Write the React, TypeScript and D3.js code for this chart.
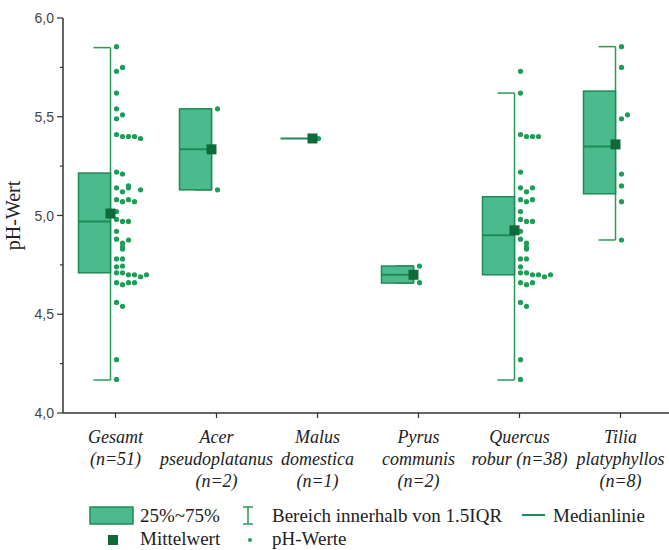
import React from 'react';
import * as d3 from 'd3';

// categories and their label lines
const categories = ['Gesamt', 'Acer', 'Malus', 'Pyrus', 'Quercus', 'Tilia'];
const labelLines = [
  ['Gesamt', '(n=51)'],
  ['Acer', 'pseudoplatanus', '(n=2)'],
  ['Malus', 'domestica', '(n=1)'],
  ['Pyrus', 'communis', '(n=2)'],
  ['Quercus', 'robur (n=38)'],
  ['Tilia', 'platyphyllos', '(n=8)'],
];

// pH values
const acer = [5.54, 5.13];
const malus = [5.39];
const pyrus = [4.744, 4.66];
const quercus = [
  5.73, 5.62, 5.41, 5.4, 5.4, 5.4, 5.22, 5.14, 5.12, 5.14, 5.08, 5.07, 5.08,
  5.02, 4.98, 4.97, 4.97, 4.92, 4.88, 4.86, 4.84, 4.83, 4.78, 4.78, 4.74, 4.71,
  4.71, 4.7, 4.7, 4.69, 4.7, 4.66, 4.65, 4.66, 4.56, 4.54, 4.27, 4.17,
];
const tilia = [5.855, 5.75, 5.49, 5.51, 5.21, 5.15, 5.07, 4.876];
const gesamt = [...quercus, ...tilia, ...acer, ...malus, ...pyrus];
const seriesValues = [gesamt, acer, malus, pyrus, quercus, tilia];

// box statistics
const q1 = [4.71, 5.13, 5.39, 4.658, 4.7, 5.11];
const medians = [4.97, 5.335, 5.39, 4.7, 4.9, 5.35];
const q3 = [5.215, 5.54, 5.39, 4.744, 5.095, 5.63];
const means = [5.01, 5.335, 5.39, 4.7, 4.925, 5.36];
const whiskerLo = [4.167, 5.13, 5.39, 4.658, 4.167, 4.876];
const whiskerHi = [5.85, 5.54, 5.39, 4.744, 5.62, 5.855];

const yTicks = [4.0, 4.5, 5.0, 5.5, 6.0];
const yMinor = [4.25, 4.75, 5.25, 5.75];

const W = 669;
const H = 550;
const BOX_FILL = '#4bbb8e';
const BOX_STROKE = '#1f8a55';
const GREEN = '#2a9a55';
const POINT = '#1e9d58';
const MEAN = '#0f6a3a';
const SERIF = '"Liberation Serif", "Times New Roman", serif';
const SANS = '"Liberation Sans", Arial, sans-serif';

const fmt = (v: number) => v.toFixed(1).replace('.', ',');

// spread points of similar value sideways (simple swarm)
function swarm(vals: number[]) {
  const placed: number[] = [];
  return vals.map((v) => {
    const k = placed.filter((p) => Math.abs(p - v) < 0.03).length;
    placed.push(v);
    return k % 6;
  });
}

export default function App() {
  const x = d3.scaleBand().domain(categories).range([65, 671]);
  const y = d3.scaleLinear().domain([4, 6]).range([413, 18]);
  const cx = (c: string) => (x(c) as number) + x.bandwidth() / 2;

  return (
    <svg width={W} height={H} style={{ position: 'absolute', left: 0, top: 0, background: '#fff' }}>
      {/* y axis */}
      <line x1={63} x2={63} y1={y(6)} y2={y(4)} stroke="#333" strokeWidth={1.5} />
      {yTicks.map((t) => (
        <g key={t}>
          <line x1={57} x2={63} y1={y(t)} y2={y(t)} stroke="#333" strokeWidth={1.2} />
          <text x={54} y={y(t) + 5} textAnchor="end" fontFamily={SANS} fontSize={14} fill="#444">
            {fmt(t)}
          </text>
        </g>
      ))}
      {yMinor.map((t) => (
        <line key={t} x1={60} x2={63} y1={y(t)} y2={y(t)} stroke="#333" strokeWidth={1.2} />
      ))}
      <text
        transform={`translate(20,${(y(4) + y(6)) / 2}) rotate(-90)`}
        textAnchor="middle"
        fontFamily={SERIF}
        fontSize={20}
        fill="#222"
      >
        pH-Wert
      </text>

      {/* x axis */}
      <line x1={63} x2={W} y1={y(4)} y2={y(4)} stroke="#333" strokeWidth={1.5} />
      {categories.map((c, i) => (
        <g key={c}>
          <line x1={cx(c)} x2={cx(c)} y1={y(4)} y2={y(4) + 5} stroke="#333" strokeWidth={1.2} />
          {labelLines[i].map((l, j) => (
            <text
              key={j}
              x={cx(c)}
              y={443 + j * 22}
              textAnchor="middle"
              fontFamily={SERIF}
              fontStyle="italic"
              fontSize={18}
              fill="#222"
            >
              {l}
            </text>
          ))}
        </g>
      ))}

      {/* boxes */}
      {categories.map((c, i) => {
        const right = cx(c) - 5;
        const left = cx(c) - 37;
        const offs = swarm(seriesValues[i]);
        return (
          <g key={c}>
            {whiskerHi[i] !== whiskerLo[i] && (
              <g stroke={GREEN} strokeWidth={1.5} fill="none">
                <line x1={right} x2={right} y1={y(whiskerHi[i])} y2={y(whiskerLo[i])} />
                <line x1={right - 17} x2={right} y1={y(whiskerHi[i])} y2={y(whiskerHi[i])} />
                <line x1={right - 17} x2={right} y1={y(whiskerLo[i])} y2={y(whiskerLo[i])} />
              </g>
            )}
            {q3[i] !== q1[i] && (
              <rect
                x={left}
                y={y(q3[i])}
                width={right - left}
                height={y(q1[i]) - y(q3[i])}
                fill={BOX_FILL}
                stroke={BOX_STROKE}
                strokeWidth={1.5}
              />
            )}
            <line x1={left} x2={right} y1={y(medians[i])} y2={y(medians[i])} stroke={BOX_STROKE} strokeWidth={2} />
            {seriesValues[i].map((v, k) => (
              <circle key={k} cx={cx(c) + 1 + offs[k] * 6} cy={y(v)} r={2.6} fill={POINT} />
            ))}
            <rect x={right - 5} y={y(means[i]) - 5} width={10} height={10} fill={MEAN} />
          </g>
        );
      })}

      {/* legend */}
      <g fontFamily={SERIF} fontSize={19} fill="#222">
        <rect x={90} y={507} width={43} height={17} fill={BOX_FILL} stroke={BOX_STROKE} strokeWidth={1.5} />
        <text x={140} y={522}>25%~75%</text>
        <g stroke={GREEN} strokeWidth={1.5}>
          <line x1={248} x2={248} y1={507} y2={524} />
          <line x1={243} x2={253} y1={507} y2={507} />
          <line x1={243} x2={253} y1={524} y2={524} />
        </g>
        <text x={272} y={522}>Bereich innerhalb von 1.5IQR</text>
        <line x1={522} x2={545} y1={515} y2={515} stroke={BOX_STROKE} strokeWidth={2} />
        <text x={553} y={522}>Medianlinie</text>
        <rect x={108} y={535} width={10} height={10} fill={MEAN} />
        <text x={140} y={545}>Mittelwert</text>
        <circle cx={250} cy={540} r={2} fill={POINT} />
        <text x={272} y={545}>pH-Werte</text>
      </g>
    </svg>
  );
}
